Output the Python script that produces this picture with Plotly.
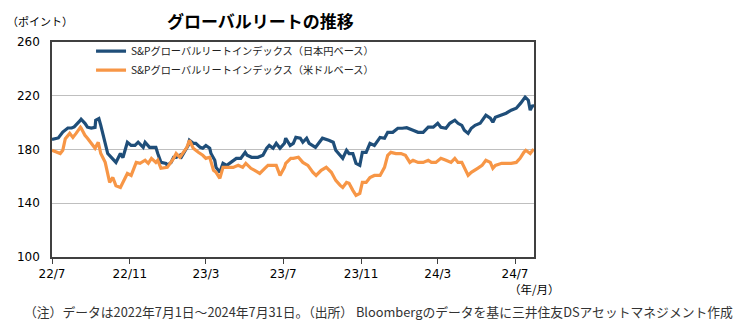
import plotly.graph_objects as go

# S&P Global REIT Index, yen basis
jpy_dates = [
    "2022-07-01", "2022-07-11", "2022-07-18", "2022-07-26", "2022-08-01", "2022-08-05",
    "2022-08-15", "2022-08-16", "2022-08-22", "2022-08-26", "2022-09-01", "2022-09-07",
    "2022-09-08", "2022-09-13", "2022-09-16", "2022-09-20", "2022-09-23", "2022-09-27",
    "2022-10-03", "2022-10-07", "2022-10-10", "2022-10-17", "2022-10-21", "2022-10-28",
    "2022-11-03", "2022-11-09", "2022-11-14", "2022-11-22", "2022-11-25", "2022-12-02",
    "2022-12-12", "2022-12-15", "2022-12-20", "2022-12-28", "2022-12-30", "2023-01-05",
    "2023-01-09", "2023-01-13", "2023-01-19", "2023-01-20", "2023-01-27", "2023-02-01",
    "2023-02-03", "2023-02-09", "2023-02-13", "2023-02-20", "2023-02-24", "2023-03-01",
    "2023-03-07", "2023-03-09", "2023-03-15", "2023-03-17", "2023-03-23", "2023-03-28",
    "2023-04-03", "2023-04-10", "2023-04-18", "2023-04-25", "2023-05-02", "2023-05-05",
    "2023-05-12", "2023-05-22", "2023-05-30", "2023-06-05", "2023-06-09", "2023-06-15",
    "2023-06-20", "2023-06-26", "2023-07-03", "2023-07-05", "2023-07-12", "2023-07-17",
    "2023-07-21", "2023-07-28", "2023-08-01", "2023-08-07", "2023-08-11", "2023-08-21",
    "2023-08-28", "2023-09-01", "2023-09-11", "2023-09-18", "2023-09-22", "2023-09-29",
    "2023-10-03", "2023-10-09", "2023-10-13", "2023-10-19", "2023-10-24", "2023-10-30",
    "2023-11-03", "2023-11-09", "2023-11-15", "2023-11-22", "2023-12-01", "2023-12-08",
    "2023-12-13", "2023-12-21", "2023-12-29", "2024-01-05", "2024-01-12", "2024-01-22",
    "2024-01-30", "2024-02-07", "2024-02-15", "2024-02-23", "2024-03-01", "2024-03-06",
    "2024-03-14", "2024-03-20", "2024-03-28", "2024-04-02", "2024-04-08", "2024-04-12",
    "2024-04-18", "2024-04-23", "2024-04-29", "2024-05-07", "2024-05-10", "2024-05-16",
    "2024-05-23", "2024-05-27", "2024-05-31", "2024-06-10", "2024-06-17", "2024-06-25",
    "2024-07-03", "2024-07-10", "2024-07-17", "2024-07-22", "2024-07-25", "2024-07-29",
    "2024-07-31",
]
jpy_values = [
    187.5, 188.6, 193.0, 196.0, 196.0, 196.8,
    201.8, 202.5, 199.5, 196.6, 196.0, 196.5,
    201.8, 203.0, 198.0, 190.6, 183.0, 177.0,
    174.0, 172.0, 170.4, 177.0, 174.0, 185.4,
    183.0, 183.0, 185.4, 181.6, 185.4, 181.6,
    181.6, 177.0, 170.4, 169.7, 168.2, 170.4,
    174.2, 174.2, 175.7, 173.4, 179.4, 183.0,
    186.9, 184.6, 184.6, 181.6, 180.9, 183.0,
    180.9, 177.0, 172.0, 166.7, 163.0, 169.7,
    168.2, 170.4, 173.4, 173.4, 177.9, 175.7,
    174.2, 174.2, 175.7, 180.9, 183.0, 180.9,
    184.6, 180.9, 184.6, 188.4, 183.0, 184.6,
    189.0, 188.4, 185.4, 188.4, 184.6, 181.6,
    185.4, 188.4, 186.9, 185.4, 179.4, 175.7,
    173.4, 179.4, 177.0, 177.0, 169.7, 168.2,
    177.9, 177.9, 184.6, 183.0, 189.0, 188.4,
    192.8, 192.8, 195.8, 195.8, 196.2, 194.3,
    192.8, 192.8, 196.6, 196.6, 199.5, 196.6,
    195.8, 199.5, 201.8, 199.5, 198.0, 194.3,
    192.0, 195.8, 198.0, 199.5, 201.8, 205.5,
    203.3, 200.3, 204.0, 205.5, 207.0, 209.3,
    210.7, 214.5, 219.0, 216.7, 209.3, 213.0,
    211.5,
]

# S&P Global REIT Index, US dollar basis
usd_dates = [
    "2022-07-01", "2022-07-07", "2022-07-14", "2022-07-18", "2022-07-22", "2022-07-29",
    "2022-08-03", "2022-08-08", "2022-08-15", "2022-08-16", "2022-08-22", "2022-08-26",
    "2022-09-01", "2022-09-07", "2022-09-12", "2022-09-16", "2022-09-23", "2022-09-27",
    "2022-09-30", "2022-10-05", "2022-10-10", "2022-10-17", "2022-10-21", "2022-10-28",
    "2022-11-03", "2022-11-11", "2022-11-17", "2022-11-25", "2022-11-30", "2022-12-05",
    "2022-12-12", "2022-12-15", "2022-12-20", "2022-12-28", "2022-12-30", "2023-01-09",
    "2023-01-13", "2023-01-19", "2023-01-24", "2023-01-30", "2023-02-03", "2023-02-09",
    "2023-02-17", "2023-02-24", "2023-03-01", "2023-03-07", "2023-03-13", "2023-03-17",
    "2023-03-23", "2023-03-28", "2023-04-05", "2023-04-13", "2023-04-21", "2023-04-28",
    "2023-05-03", "2023-05-11", "2023-05-17", "2023-05-25", "2023-06-02", "2023-06-07",
    "2023-06-15", "2023-06-20", "2023-06-26", "2023-07-03", "2023-07-05", "2023-07-13",
    "2023-07-17", "2023-07-25", "2023-08-01", "2023-08-09", "2023-08-17", "2023-08-22",
    "2023-08-30", "2023-09-07", "2023-09-15", "2023-09-22", "2023-09-29", "2023-10-03",
    "2023-10-09", "2023-10-13", "2023-10-19", "2023-10-24", "2023-10-30", "2023-11-03",
    "2023-11-09", "2023-11-15", "2023-11-22", "2023-12-01", "2023-12-08", "2023-12-13",
    "2023-12-18", "2023-12-26", "2024-01-03", "2024-01-10", "2024-01-17", "2024-01-22",
    "2024-01-30", "2024-02-07", "2024-02-15", "2024-02-20", "2024-02-27", "2024-03-06",
    "2024-03-14", "2024-03-22", "2024-03-28", "2024-04-02", "2024-04-08", "2024-04-12",
    "2024-04-18", "2024-04-23", "2024-04-29", "2024-05-03", "2024-05-10", "2024-05-16",
    "2024-05-23", "2024-05-27", "2024-05-31", "2024-06-10", "2024-06-17", "2024-06-25",
    "2024-07-03", "2024-07-09", "2024-07-15", "2024-07-18", "2024-07-25", "2024-07-29",
    "2024-07-31",
]
usd_values = [
    179.4, 178.0, 177.0, 179.4, 188.0, 192.0,
    189.0, 192.0, 196.6, 196.0, 190.6, 188.4,
    184.6, 180.9, 185.4, 177.0, 170.4, 160.7,
    155.5, 159.2, 153.0, 151.8, 155.5, 162.2,
    160.7, 170.4, 169.7, 172.0, 169.7, 173.4,
    170.4, 172.0, 166.0, 166.7, 166.7, 173.4,
    177.0, 174.2, 177.9, 181.6, 186.9, 180.9,
    177.9, 175.7, 173.4, 174.2, 164.5, 163.0,
    158.5, 166.7, 166.7, 166.7, 168.2, 166.7,
    169.7, 166.0, 164.5, 162.2, 166.0, 168.2,
    168.2, 168.2, 160.7, 166.7, 169.7, 173.4,
    173.4, 174.2, 170.4, 168.2, 163.0, 160.7,
    164.5, 166.7, 163.0, 157.0, 153.3, 151.8,
    155.5, 154.8, 149.6, 145.8, 147.3, 155.5,
    155.5, 159.2, 160.7, 160.7, 166.7, 175.7,
    177.9, 177.0, 177.0, 175.7, 170.4, 172.0,
    170.4, 170.4, 172.0, 170.4, 170.4, 173.4,
    172.0, 170.4, 173.4, 170.4, 170.4, 166.0,
    160.7, 163.0, 164.5, 166.0, 168.2, 172.0,
    170.4, 166.0, 168.2, 169.7, 169.7, 169.7,
    170.4, 173.4, 177.9, 179.4, 177.0, 179.4,
    179.0,
]

series_names = [
    "S&Pグローバルリートインデックス（日本円ベース）",
    "S&Pグローバルリートインデックス（米ドルベース）",
]
series_colors = ["#1F4E79", "#F79646"]

tick_dates = ["2022-07-01", "2022-11-01", "2023-03-01", "2023-07-01",
              "2023-11-01", "2024-03-01", "2024-07-01"]
tick_labels = ["22/7", "22/11", "23/3", "23/7", "23/11", "24/3", "24/7"]
y_ticks = [100, 140, 180, 220, 260]

FONT = "DejaVu Sans, Noto Sans CJK JP, sans-serif"
JP_FONT = "Noto Sans CJK JP, sans-serif"

fig = go.Figure()
for dates, vals, name, color in [
    (jpy_dates, jpy_values, series_names[0], series_colors[0]),
    (usd_dates, usd_values, series_names[1], series_colors[1]),
]:
    fig.add_trace(go.Scatter(
        x=dates, y=vals, name=name, mode="lines",
        line=dict(color=color, width=3.2),
    ))

fig.update_layout(
    width=751, height=330,
    margin=dict(l=52, r=217, t=42, b=73),
    paper_bgcolor="white", plot_bgcolor="white",
    font=dict(family=FONT, size=12, color="#000000"),
    showlegend=True,
    legend=dict(
        x=0.081, y=1.025, xanchor="left", yanchor="top",
        bgcolor="rgba(0,0,0,0)",
        font=dict(family=JP_FONT, size=10.2, color="#222222"),
        tracegroupgap=0, itemwidth=30,
    ),
    xaxis=dict(
        type="date",
        range=["2022-07-01", "2024-07-31"],
        tickvals=tick_dates, ticktext=tick_labels,
        ticks="outside", ticklen=5, tickcolor="#404040",
        showline=True, linecolor="#404040", linewidth=1.5, mirror=True,
        showgrid=False, zeroline=False,
        tickfont=dict(size=12),
    ),
    yaxis=dict(
        range=[100, 260],
        tickvals=y_ticks,
        showline=True, linecolor="#404040", linewidth=1.5, mirror=True,
        showgrid=True, gridcolor="#BFBFBF", gridwidth=1,
        zeroline=False, ticks="", ticklabelstandoff=8,
        tickfont=dict(size=12),
    ),
)

fig.add_annotation(
    text="<b>グローバルリートの推移</b>", xref="paper", yref="paper",
    x=0.432, y=1.0, yshift=22, xanchor="center", yanchor="middle",
    showarrow=False, font=dict(family=JP_FONT, size=17, color="#000000"),
)
fig.add_annotation(
    text="（ポイント）", xref="paper", yref="paper",
    x=-0.098, y=1.0, yshift=21, xanchor="left", yanchor="middle",
    showarrow=False, font=dict(family=JP_FONT, size=11, color="#000000"),
)
fig.add_annotation(
    text="（年/月）", xref="paper", yref="paper",
    x=1.0, y=0, yshift=-32, xanchor="center", yanchor="middle",
    showarrow=False, font=dict(family=JP_FONT, size=11.5, color="#000000"),
)
fig.add_annotation(
    text="（注）データは2022年7月1日～2024年7月31日。（出所） Bloombergのデータを基に三井住友DSアセットマネジメント作成",
    xref="paper", yref="paper",
    x=-0.062, y=0, yshift=-54, xanchor="left", yanchor="middle",
    showarrow=False, font=dict(family=JP_FONT, size=12.8, color="#333333"),
)

fig.write_html("out.html")
